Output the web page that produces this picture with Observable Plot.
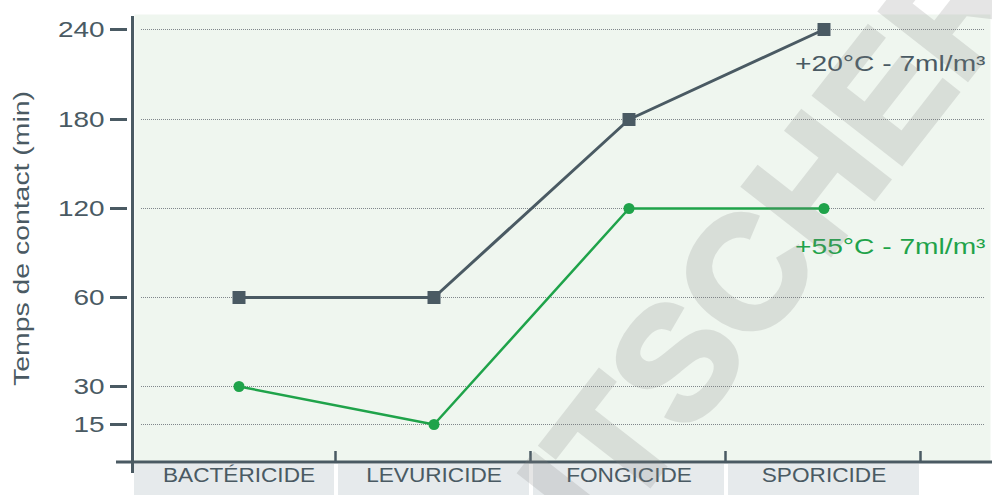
<!DOCTYPE html>
<html>
<head>
<meta charset="utf-8">
<script src="https://cdn.jsdelivr.net/npm/d3@7"></script>
<script src="https://cdn.jsdelivr.net/npm/@observablehq/plot@0.6"></script>
<style>
  body { margin: 0; background: #fff; }
  #chart { position: relative; width: 992px; height: 495px; overflow: hidden; }
</style>
</head>
<body>
<div id="chart"></div>
<script>
// ---- data ----
const categories = ["BACTÉRICIDE", "LEVURICIDE", "FONGICIDE", "SPORICIDE"];
const temp20 = [60, 60, 180, 240];
const temp55 = [30, 15, 120, 120];
const yTicks = [15, 30, 60, 120, 180, 240];
const seriesNames = ["+20°C - 7ml/m³", "+55°C - 7ml/m³"];
const yTitle = "Temps de contact (min)";
const watermark = "DUTSCHER";

// ---- styles ----
const DARK = "#4a5a63";
const GREEN = "#1fa34a";
const GRID = "#80878b";
const BG = "#eff6ef";
const BOX = "#e6eaec";
const FONT = "'Liberation Sans', Arial, Helvetica, sans-serif";

const rows20 = categories.map((c, i) => ({cat: c, v: temp20[i]}));
const rows55 = categories.map((c, i) => ({cat: c, v: temp55[i]}));

const plot = Plot.plot({
  width: 992,
  height: 495,
  marginLeft: 134,
  marginRight: 2,
  marginTop: 14,
  marginBottom: 33,
  style: {fontFamily: FONT, background: "white", overflow: "visible"},
  x: {type: "band", domain: categories, range: [140, 922], padding: 0, axis: null},
  y: {type: "linear", domain: [0, 30, 60, 120, 180, 240], range: [462, 386, 297, 208, 119, 29], label: null},
  marks: [
    Plot.frame({fill: BG, stroke: "none"}),
    Plot.ruleY(yTicks, {stroke: GRID, strokeWidth: 1, strokeDasharray: "1,1", insetLeft: 7, insetRight: 6}),
    Plot.axisY(yTicks, {anchor: "left", tickSize: 17, tickPadding: 6, dx: -7, stroke: DARK, strokeWidth: 3,
      fill: DARK, fontSize: 22, label: null, className: "ytick"}),
    Plot.text([yTitle], {text: d => d, frameAnchor: "left", textAnchor: "middle", rotate: -90, dx: -113,
      fontSize: 22, fill: DARK, className: "ytitle"}),
    Plot.line(rows20, {x: "cat", y: "v", stroke: DARK, strokeWidth: 3}),
    Plot.dot(rows20, {x: "cat", y: "v", symbol: "square", r: 7.33, fill: DARK, stroke: "none"}),
    Plot.line(rows55, {x: "cat", y: "v", stroke: GREEN, strokeWidth: 2.5}),
    Plot.dot(rows55, {x: "cat", y: "v", symbol: "circle", r: 5.5, fill: GREEN, stroke: "none"}),
    Plot.text([seriesNames[0]], {text: d => d, frameAnchor: "right", y: () => temp20[3], dx: -5, dy: 34.5,
      textAnchor: "end", fontSize: 22, fill: DARK, className: "slabel"}),
    Plot.text([seriesNames[1]], {text: d => d, frameAnchor: "right", y: () => temp55[3], dx: -5, dy: 38,
      textAnchor: "end", fontSize: 22, fill: GREEN, className: "slabel"}),
    Plot.text(categories, {x: d => d, text: d => d, frameAnchor: "bottom", textAnchor: "middle", dy: 19,
      fontSize: 19.5, fill: DARK, className: "xlabel"})
  ]
});

document.getElementById("chart").appendChild(plot);

// ---- decorations derived from the plot's scales ----
const svg = d3.select(plot);
const xs = plot.scale("x");
const ys = plot.scale("y");
const bw = xs.bandwidth;
const y0 = ys.apply(0);
const frameLeft = 134;
const H = 495, W = 992;

// category boxes, drawn beneath all marks
const deco = svg.insert("g", ":first-child");
categories.forEach((c, i) => {
  const start = xs.apply(c), end = start + bw;
  const left = i === 0 ? frameLeft : start + 2;
  deco.append("rect").attr("x", left).attr("y", y0 + 2).attr("width", end - 2 - left)
    .attr("height", H - y0 - 2).attr("fill", BOX);
});
const axes = svg.append("g");
// y axis line
axes.append("line").attr("x1", 132.5).attr("x2", 132.5).attr("y1", ys.apply(240) - 13).attr("y2", y0 + 11)
  .attr("stroke", DARK).attr("stroke-width", 3);
// x axis line
axes.append("line").attr("x1", 116).attr("x2", W).attr("y1", y0).attr("y2", y0)
  .attr("stroke", DARK).attr("stroke-width", 3);
// up ticks at band ends
categories.forEach(c => {
  const e = xs.apply(c) + bw - 0.5;
  axes.append("line").attr("x1", e).attr("x2", e).attr("y1", y0 - 11).attr("y2", y0)
    .attr("stroke", DARK).attr("stroke-width", 2.5);
});

// stretch text to match the wide original face
function stretch(sel, k) {
  plot.querySelectorAll(sel).forEach(t => {
    const L = t.getComputedTextLength();
    if (L > 0) {
      t.setAttribute("textLength", (L * k).toFixed(2));
      t.setAttribute("lengthAdjust", "spacingAndGlyphs");
    }
  });
}
stretch(".ytick text", 1.27);
stretch(".ytitle text", 1.29);
stretch(".slabel text", 1.28);
stretch(".xlabel text", 1.16);

// watermark overlay
svg.append("g").attr("opacity", 0.2)
  .append("text")
  .attr("transform", "translate(713,311) rotate(-52)")
  .attr("text-anchor", "middle")
  .attr("dy", "0.36em")
  .attr("font-family", FONT)
  .attr("font-weight", "bold")
  .attr("font-size", 160)
  .attr("fill", "#808080")
  .attr("stroke", "#808080")
  .attr("stroke-width", 5)
  .attr("stroke-linejoin", "miter")
  .text(watermark);
</script>
</body>
</html>
